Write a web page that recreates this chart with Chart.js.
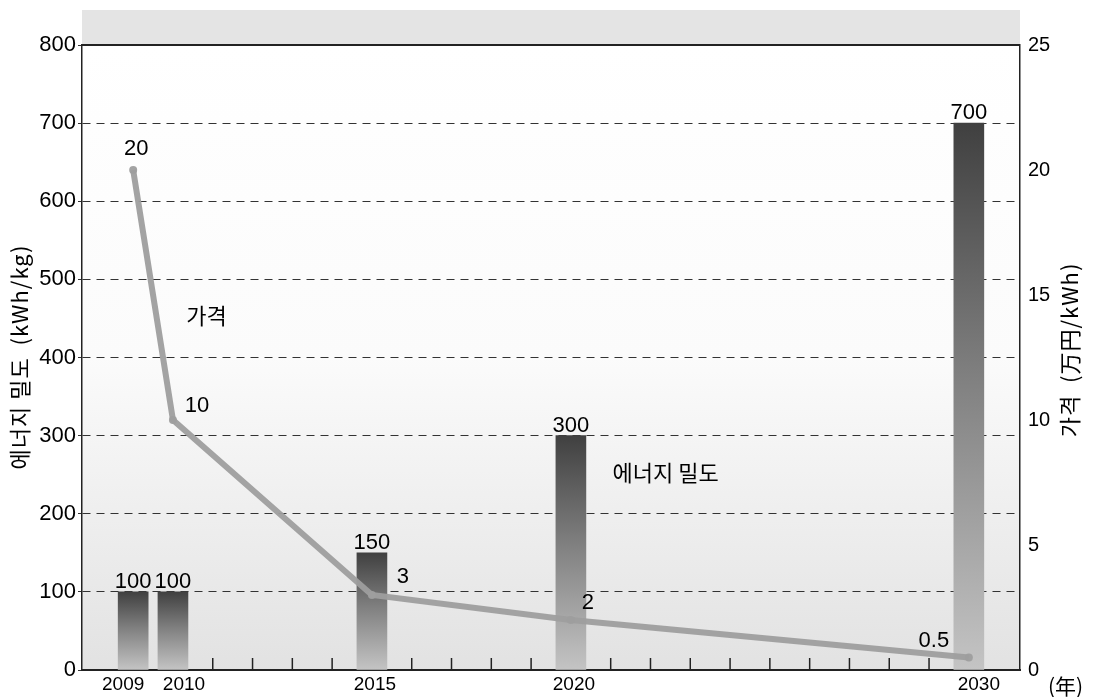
<!DOCTYPE html>
<html>
<head>
<meta charset="utf-8">
<script src="https://cdn.jsdelivr.net/npm/chart.js@4.4.1/dist/chart.umd.min.js"></script>
<style>
  body { margin: 0; background: #fff; }
  #wrap { width: 1095px; height: 697px; }
</style>
</head>
<body>
<div id="wrap"><canvas id="myChart"></canvas></div>
<script>
// years on the x axis, energy density bars (left axis), price line (right axis)
const years = [2009, 2010, 2015, 2020, 2030];
const density = [100, 100, 150, 300, 700];
const price = [20, 10, 3, 2, 0.5];
const yearLabels = [2009, 2010, 2015, 2020, 2030];

const KR = "'Noto Sans CJK KR', 'Noto Sans', sans-serif";
const NUM = "'Liberation Sans', Arial, sans-serif";
Chart.defaults.font.family = NUM;
Chart.defaults.color = '#000';

const ctx = document.getElementById('myChart');

// gray shaded bar, dark at the top and fading toward the axis
function barFill(c) {
  const chart = c.chart;
  if (!chart.chartArea || !c.raw) return '#777';
  const ys = chart.scales.y;
  const top = ys.getPixelForValue(c.raw.y);
  const bottom = ys.getPixelForValue(0);
  const g = chart.ctx.createLinearGradient(0, top, 0, bottom);
  g.addColorStop(0, '#404040');
  g.addColorStop(0.45, '#7e7e7e');
  g.addColorStop(1, '#c4c4c4');
  return g;
}

const paperPlugin = {
  id: 'paper',
  beforeDraw(chart) {
    const { ctx, chartArea: a } = chart;
    ctx.save();
    // band above the plot
    ctx.fillStyle = '#e4e4e4';
    ctx.fillRect(a.left, 10, a.right - a.left, a.top - 10);
    // plot background gets grayer toward the bottom
    const g = ctx.createLinearGradient(0, a.top, 0, a.bottom);
    g.addColorStop(0, '#ffffff');
    g.addColorStop(0.5, '#fbfbfb');
    g.addColorStop(1, '#e2e2e2');
    ctx.fillStyle = g;
    ctx.fillRect(a.left, a.top, a.right - a.left, a.bottom - a.top);
    ctx.restore();
  },
  beforeDatasetsDraw(chart) {
    const { ctx, chartArea: a, scales } = chart;
    ctx.save();
    // small inward ticks on the year axis
    ctx.strokeStyle = '#222';
    ctx.lineWidth = 1.5;
    scales.x.ticks.forEach(t => {
      const px = scales.x.getPixelForValue(t.value);
      ctx.beginPath();
      ctx.moveTo(px, a.bottom);
      ctx.lineTo(px, a.bottom - 12);
      ctx.stroke();
    });
    // solid top frame
    ctx.lineWidth = 2;
    ctx.beginPath();
    ctx.moveTo(a.left, a.top);
    ctx.lineTo(a.right, a.top);
    ctx.stroke();
    ctx.restore();
  }
};

const labelPlugin = {
  id: 'labels',
  afterDatasetsDraw(chart) {
    const { ctx, scales, chartArea: a } = chart;
    const x = scales.x, y = scales.y;
    ctx.save();
    ctx.fillStyle = '#000';

    // values above the bars
    ctx.font = '22px ' + NUM;
    ctx.textAlign = 'center';
    ctx.textBaseline = 'alphabetic';
    const bars = chart.getDatasetMeta(1).data;
    bars.forEach((el, i) => {
      ctx.fillText(String(density[i]), el.x, el.y - 4);
    });

    // values next to the price points
    const offs = [[3, -21], [24, -14], [31, -18], [17, -17], [-35, -17]];
    ctx.textBaseline = 'middle';
    const pts = chart.getDatasetMeta(0).data;
    pts.forEach((el, i) => {
      ctx.fillText(String(price[i]), el.x + offs[i][0], el.y + offs[i][1]);
    });

    // year labels under the axis; the first two are pushed apart
    const shift = { 2009: -10, 2010: 11, 2015: 3, 2020: 3, 2030: 10 };
    ctx.font = '19px ' + NUM;
    yearLabels.forEach(v => {
      ctx.fillText(String(v), x.getPixelForValue(v) + (shift[v] || 0), a.bottom + 15);
    });

    // series names inside the plot
    ctx.font = '22px ' + KR;
    ctx.fillText('가격', x.getPixelForValue(2010.84), y.getPixelForValue(453));
    ctx.fillText('에너지 밀도', x.getPixelForValue(2022.38), y.getPixelForValue(252));

    // axis titles, both reading bottom to top
    ctx.font = '22px ' + KR;
    ctx.letterSpacing = '1px';
    ctx.save();
    ctx.translate(20, 357);
    ctx.rotate(-Math.PI / 2);
    ctx.fillText('에너지 밀도  (kWh/kg)', 0, 0);
    ctx.restore();
    ctx.save();
    ctx.translate(1070, 350);
    ctx.rotate(-Math.PI / 2);
    ctx.fillText('가격  (万円/kWh)', 0, 0);
    ctx.restore();
    ctx.letterSpacing = '0px';

    ctx.font = '21px ' + KR;
    ctx.textAlign = 'left';
    ctx.fillText('(年)', a.right + 28, a.bottom + 16);
    ctx.restore();
  }
};

new Chart(ctx, {
  data: {
    datasets: [
      {
        type: 'line',
        label: '가격',
        data: years.map((v, i) => ({ x: v, y: price[i] })),
        yAxisID: 'y1',
        borderColor: 'rgba(158,158,158,0.95)',
        backgroundColor: 'rgba(158,158,158,0.95)',
        borderWidth: 6,
        pointRadius: 4,
        pointBorderWidth: 0,
        tension: 0,
        order: 0
      },
      {
        type: 'bar',
        label: '에너지 밀도',
        data: years.map((v, i) => ({ x: v, y: density[i] })),
        yAxisID: 'y',
        backgroundColor: barFill,
        barThickness: 30,
        order: 1
      }
    ]
  },
  options: {
    responsive: true,
    maintainAspectRatio: false,
    animation: false,
    layout: { padding: { top: 45, left: 0, right: 0, bottom: 0 } },
    plugins: { legend: { display: false }, tooltip: { enabled: false } },
    scales: {
      x: {
        type: 'linear',
        min: 2008.25,
        max: 2030.75,
        afterBuildTicks(scale) {
          const t = [];
          for (let v = 2009; v <= 2030; v++) t.push({ value: v });
          scale.ticks = t;
        },
        afterFit(scale) { scale.height = 27; },
        ticks: { display: false },
        grid: { drawOnChartArea: false, drawTicks: false },
        border: { display: true, color: '#222', width: 2 }
      },
      y: {
        position: 'left',
        min: 0,
        max: 800,
        ticks: { stepSize: 100, font: { size: 22 }, color: '#000', padding: 2 },
        afterFit(scale) { scale.width = 82; },
        grid: { color: '#333', lineWidth: 1, tickLength: 4 },
        border: { display: true, color: '#222', width: 1.5, dash: [8, 6] }
      },
      y1: {
        position: 'right',
        min: 0,
        max: 25,
        ticks: { stepSize: 5, font: { size: 20 }, color: '#000', padding: 8 },
        afterFit(scale) { scale.width = 75; },
        grid: { drawOnChartArea: false, drawTicks: false },
        border: { display: true, color: '#222', width: 1.5 }
      }
    }
  },
  plugins: [paperPlugin, labelPlugin]
});
</script>
</body>
</html>
